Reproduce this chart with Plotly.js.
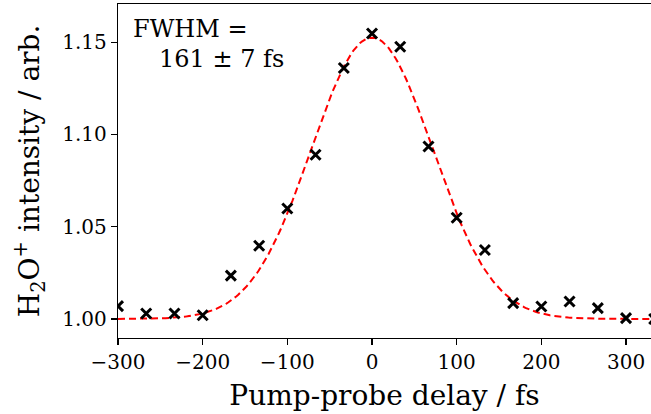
<!DOCTYPE html>
<html>
<head>
<meta charset="utf-8">
<script src="https://cdn.plot.ly/plotly-3.0.1.min.js"></script>
<style>html,body{margin:0;padding:0;background:#fff;}#chart{width:651px;height:414px;}</style>
</head>
<body>
<div id="chart"></div>
<script>
// Measured data points (pump-probe delay in fs, normalised H2O+ intensity)
const delays = [-300, -266.7, -233.3, -200, -166.7, -133.3, -100, -66.7, -33.3, 0, 33.3, 66.7, 100, 133.3, 166.7, 200, 233.3, 266.7, 300, 333.3];
const intensity = [1.007, 1.003, 1.003, 1.002, 1.0235, 1.0397, 1.0599, 1.089, 1.136, 1.1547, 1.1475, 1.0935, 1.0549, 1.0374, 1.0086, 1.0068, 1.0095, 1.0059, 1.0005, 1.000];

// Gaussian fit parameters
const fitAmplitude = 0.1525;
const fitCenter = 0;
const fitFwhm = 168;
const fitOffset = 1.0;
const fitStart = -300, fitEnd = 340, fitSteps = 320;

const fitX = [], fitY = [];
for (let i = 0; i <= fitSteps; i++) {
  const t = fitStart + (fitEnd - fitStart) * i / fitSteps;
  const u = (t - fitCenter) / fitFwhm;
  fitX.push(t);
  fitY.push(fitOffset + fitAmplitude * Math.exp(-4 * Math.LN2 * u * u));
}

const serif = '"DejaVu Serif", "Liberation Serif", serif';

const traces = [
  {
    x: fitX, y: fitY, type: 'scatter', mode: 'lines',
    line: {color: '#ff0000', width: 2, dash: '7px,4px'},
    hoverinfo: 'skip', cliponaxis: true
  },
  {
    x: delays, y: intensity, type: 'scatter', mode: 'markers',
    marker: {symbol: 'x-thin', size: 10, color: '#000', line: {color: '#000', width: 3}},
    cliponaxis: true
  }
];

const layout = {
  width: 651, height: 414,
  margin: {l: 118, r: 0, t: 4, b: 76},
  paper_bgcolor: '#fff', plot_bgcolor: '#fff',
  showlegend: false,
  xaxis: {
    range: [-300, 329.5],
    tickvals: [-300, -200, -100, 0, 100, 200, 300],
    ticktext: ['\u2212300', '\u2212200', '\u2212100', '0', '100', '200', '300'],
    ticks: 'outside', ticklen: 6, tickwidth: 1.2, tickcolor: '#000',
    showline: true, linecolor: '#000', linewidth: 1.2, mirror: true,
    showgrid: false, zeroline: false,
    tickfont: {family: serif, size: 20, color: '#000'},
    title: {text: 'Pump-probe delay / fs', font: {family: serif, size: 28, color: '#000'}, standoff: 12},
    automargin: false
  },
  yaxis: {
    range: [0.9897, 1.1707],
    tickvals: [1.00, 1.05, 1.10, 1.15],
    ticktext: ['1.00', '1.05', '1.10', '1.15'],
    ticks: 'outside', ticklen: 6, tickwidth: 1.2, tickcolor: '#000',
    showline: true, linecolor: '#000', linewidth: 1.2, mirror: true,
    showgrid: false, zeroline: false,
    tickfont: {family: serif, size: 20, color: '#000'},
    title: {text: 'H<sub>2</sub>O<sup>+</sup> intensity / arb.', font: {family: serif, size: 28, color: '#000'}, standoff: 14},
    automargin: false
  },
  annotations: [
    {xref: 'paper', yref: 'paper', x: 0.025, y: 0.972, xanchor: 'left', yanchor: 'top',
     text: 'FWHM =', showarrow: false, font: {family: serif, size: 24, color: '#000'}},
    {xref: 'paper', yref: 'paper', x: 0.073, y: 0.882, xanchor: 'left', yanchor: 'top',
     text: '161 \u00b1 7 fs', showarrow: false, font: {family: serif, size: 24, color: '#000'}}
  ]
};

Plotly.newPlot('chart', traces, layout, {staticPlot: true, displayModeBar: false});
</script>
</body>
</html>
